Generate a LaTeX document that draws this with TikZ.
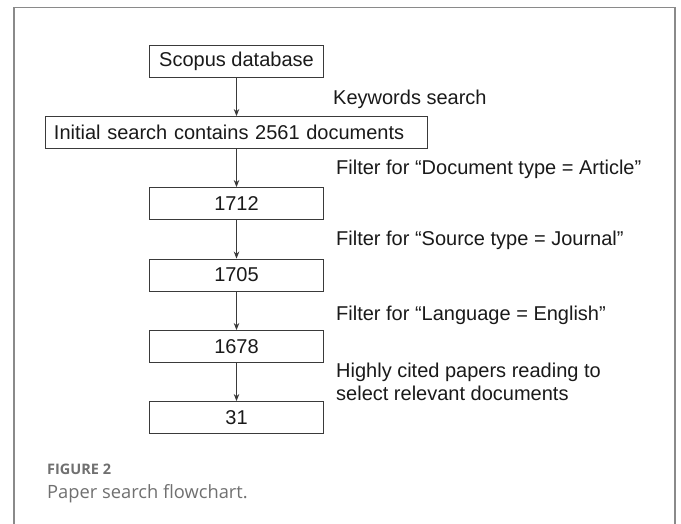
\documentclass[tikz,border=0pt]{standalone}
\usepackage{fontspec}
\setmainfont{Liberation Sans}
\newfontfamily\capfont{Open Sans}
\usetikzlibrary{arrows.meta}
\definecolor{framegray}{HTML}{8A8A8A}
\definecolor{boxline}{HTML}{3A3A3A}
\definecolor{txt}{HTML}{1A1A1A}
\definecolor{capgray}{HTML}{707070}
\tikzset{
  stepbox/.style={draw=boxline, line width=0.9pt, minimum height=32bp, inner sep=0pt,
    font=\fontsize{20bp}{22bp}\selectfont, text=txt},
  numbox/.style={stepbox, minimum width=174bp},
  flowarrow/.style={draw=boxline, line width=0.8pt, -{Stealth[length=7bp,width=5.5bp]}},
  lbl/.style={anchor=base west, inner sep=0pt, font=\fontsize{20bp}{23bp}\selectfont, text=txt, align=left}
}
\begin{document}
\begin{tikzpicture}[x=1bp,y=-1bp]
\useasboundingbox (0,0) rectangle (681,524);
\fill[white] (0,0) rectangle (681,524);
\draw[framegray, line width=1.6bp] (14,530) -- (14,7.5) -- (675,7.5) -- (675,530);

\node[numbox] (scopus) at (236.5,61.5) {Scopus database};
\node[stepbox, minimum width=382bp, text width=364bp, align=left, inner xsep=9bp] (init) at (236,132.5) {Initial search contains 2561 documents};
\node[numbox] (a) at (236.5,203.5) {1712};
\node[numbox] (b) at (236.5,275) {1705};
\node[numbox] (c) at (236.5,346.5) {1678};
\node[numbox] (d) at (236.5,417.5) {31};

\draw[flowarrow] (scopus.south) -- (scopus.south |- init.north);
\draw[flowarrow] (scopus.south |- init.south) -- (a.north);
\draw[flowarrow] (a) -- (b);
\draw[flowarrow] (b) -- (c);
\draw[flowarrow] (c) -- (d);

\node[lbl] (l1) at (333,105) {Keywords search};
\node[lbl] (l2) at (336,175) {Filter for “Document type = Article”};
\node[lbl] (l3) at (336,246) {Filter for “Source type = Journal”};
\node[lbl] (l4) at (336,320) {Filter for “Language = English”};
\node[lbl] (l5) at (336,400) {Highly cited papers reading to\\select relevant documents};

\node[anchor=base west, inner sep=0pt, font=\capfont\bfseries\fontsize{14.5bp}{16bp}\selectfont, text=capgray] (fig) at (47,474) {FIGURE 2};
\node[anchor=base west, inner sep=0pt, font=\capfont\fontsize{18.3bp}{20bp}\selectfont, text=capgray] (cap) at (47,498) {Paper search flowchart.};
\end{tikzpicture}
\end{document}
